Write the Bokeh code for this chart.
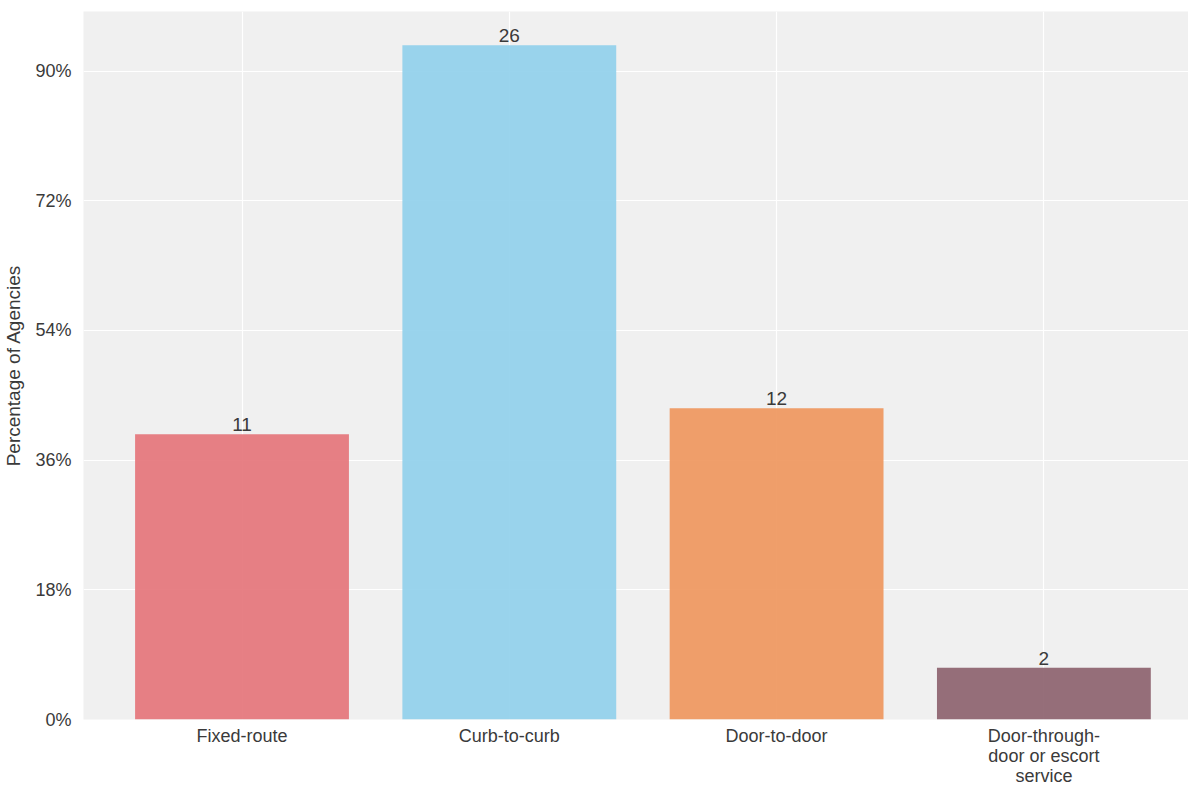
from bokeh.plotting import figure
from bokeh.models import ColumnDataSource, FixedTicker, Range1d
from bokeh.core.properties import value
from bokeh.embed import file_html
from bokeh.resources import INLINE

# ---- data ----
categories = ["Fixed-route", "Curb-to-curb", "Door-to-door",
              "Door-through-\ndoor or escort\nservice"]
counts = [11, 26, 12, 2]
colors = ["#E47278", "#8FCFEB", "#EE955B", "#8B5F6C"]
y_tick_values = [0, 5, 10, 15, 20, 25]
y_tick_labels = ["0%", "18%", "36%", "54%", "72%", "90%"]

FONT = "Liberation Sans"
TXT = "#3a3a3a"

xs = list(range(len(categories)))
src = ColumnDataSource(dict(x=xs, top=counts, color=colors,
                            label=[str(c) for c in counts]))

p = figure(width=1188, height=788, output_backend="svg", toolbar_location=None,
           x_range=Range1d(-0.593, 3.541), y_range=Range1d(0, 27.3),
           min_border_left=73, min_border_top=11, min_border_right=0,
           min_border_bottom=40)
p.background_fill_color = "#F0F0F0"
p.border_fill_color = "white"
p.outline_line_color = None

p.vbar(x="x", top="top", width=0.8, source=src, fill_color="color",
       fill_alpha=0.9, line_color=None)
p.text(x="x", y="top", text="label", source=src, text_align="center",
       text_baseline="bottom", y_offset=-3, text_font=value(FONT),
       text_font_size="19px", text_color=TXT)

p.xaxis.ticker = FixedTicker(ticks=xs)
p.xaxis.major_label_overrides = {i: c for i, c in enumerate(categories)}
p.yaxis.ticker = FixedTicker(ticks=y_tick_values)
p.yaxis.major_label_overrides = {v: l for v, l in zip(y_tick_values, y_tick_labels)}

for ax in (p.xaxis, p.yaxis):
    ax.axis_line_color = None
    ax.major_tick_line_color = None
    ax.minor_tick_line_color = None
    ax.major_label_text_font = FONT
    ax.major_label_text_font_size = "18px"
    ax.major_label_text_color = TXT
p.yaxis.major_label_standoff = 6
p.xaxis.major_label_standoff = 0
p.xaxis.major_label_text_line_height = 1.0

p.yaxis.axis_label = "Percentage of Agencies"
p.yaxis.axis_label_text_font = FONT
p.yaxis.axis_label_text_font_size = "19px"
p.yaxis.axis_label_text_font_style = "normal"
p.yaxis.axis_label_text_color = TXT
p.yaxis.axis_label_standoff = 8

p.xgrid.ticker = FixedTicker(ticks=xs)
p.grid.grid_line_color = "white"
p.grid.grid_line_width = 1.2

open("out.html", "w").write(file_html(p, INLINE))
